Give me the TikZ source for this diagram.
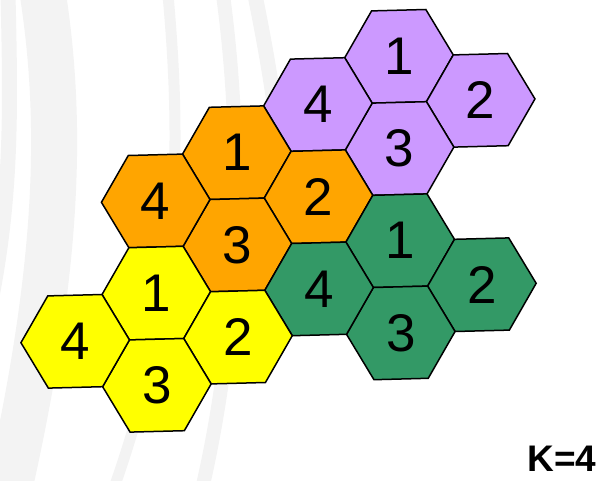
\documentclass[tikz,border=0pt]{standalone}
\usepackage{fontspec}
\setmainfont{Liberation Sans}
\usepackage{tikz}

\definecolor{celllilac}{HTML}{CC99FF}
\definecolor{cellorange}{HTML}{FFA500}
\definecolor{cellgreen}{HTML}{339966}
\definecolor{cellyellow}{HTML}{FFFF00}
\definecolor{swooshgrey}{HTML}{F3F3F3}

\begin{document}
\begin{tikzpicture}[
  x=1pt, y=-1pt,
  swoosh/.style={draw=swooshgrey, line cap=butt},
  cell/.style={draw=black, line width=1.5pt},
  num/.style={font=\fontsize{53}{60}\selectfont, inner sep=0pt},
  klbl/.style={font=\bfseries\fontsize{37}{44}\selectfont, inner sep=0pt}
]
\useasboundingbox (0,0) rectangle (608,480);

\draw[swoosh, line width=15pt] (8,-5) .. controls (11,120) and (12,210) .. (-15,330);
\draw[swoosh, line width=46pt] (43,-5) .. controls (62,120) and (60,260) .. (10,485);
\draw[swoosh, line width=11pt] (168,-5) .. controls (182,150) and (180,300) .. (115,485);
\draw[swoosh, line width=14pt] (223,-5) .. controls (240,120) and (245,300) .. (203,485);
\draw[swoosh, line width=15pt] (255,-5) .. controls (268,60) and (285,150) .. (285,250);

\begin{scope}[shift={(399,56.3)}, x={(81.7pt,-44pt)}, y={(0.6pt,-92.2pt)}]
\foreach \c/\k/\col/\lbl/\nm in {
    0/0/celllilac/1/l1, 1/0/celllilac/2/l2, 0/1/celllilac/3/l3, -1/1/celllilac/4/l4,
    -2/2/cellorange/1/o1, -1/2/cellorange/2/o2, -2/3/cellorange/3/o3, -3/3/cellorange/4/o4,
    0/2/cellgreen/1/g1, 1/2/cellgreen/2/g2, 0/3/cellgreen/3/g3, -1/3/cellgreen/4/g4,
    -3/4/cellyellow/1/y1, -2/4/cellyellow/2/y2, -3/5/cellyellow/3/y3, -4/5/cellyellow/4/y4}
{
  \draw[cell, fill=\col] (\c,\k) ++(2/3,-1/3) -- ++(-1/3,-1/3) -- ++(-2/3,1/3)
    -- ++(-1/3,2/3) -- ++(1/3,1/3) -- ++(2/3,-1/3) -- cycle;
  \node[num] (\nm) at (\c,\k) {\lbl};
}
\end{scope}

\node[klbl] (kval) at (562,459) {K=4};
\end{tikzpicture}
\end{document}
